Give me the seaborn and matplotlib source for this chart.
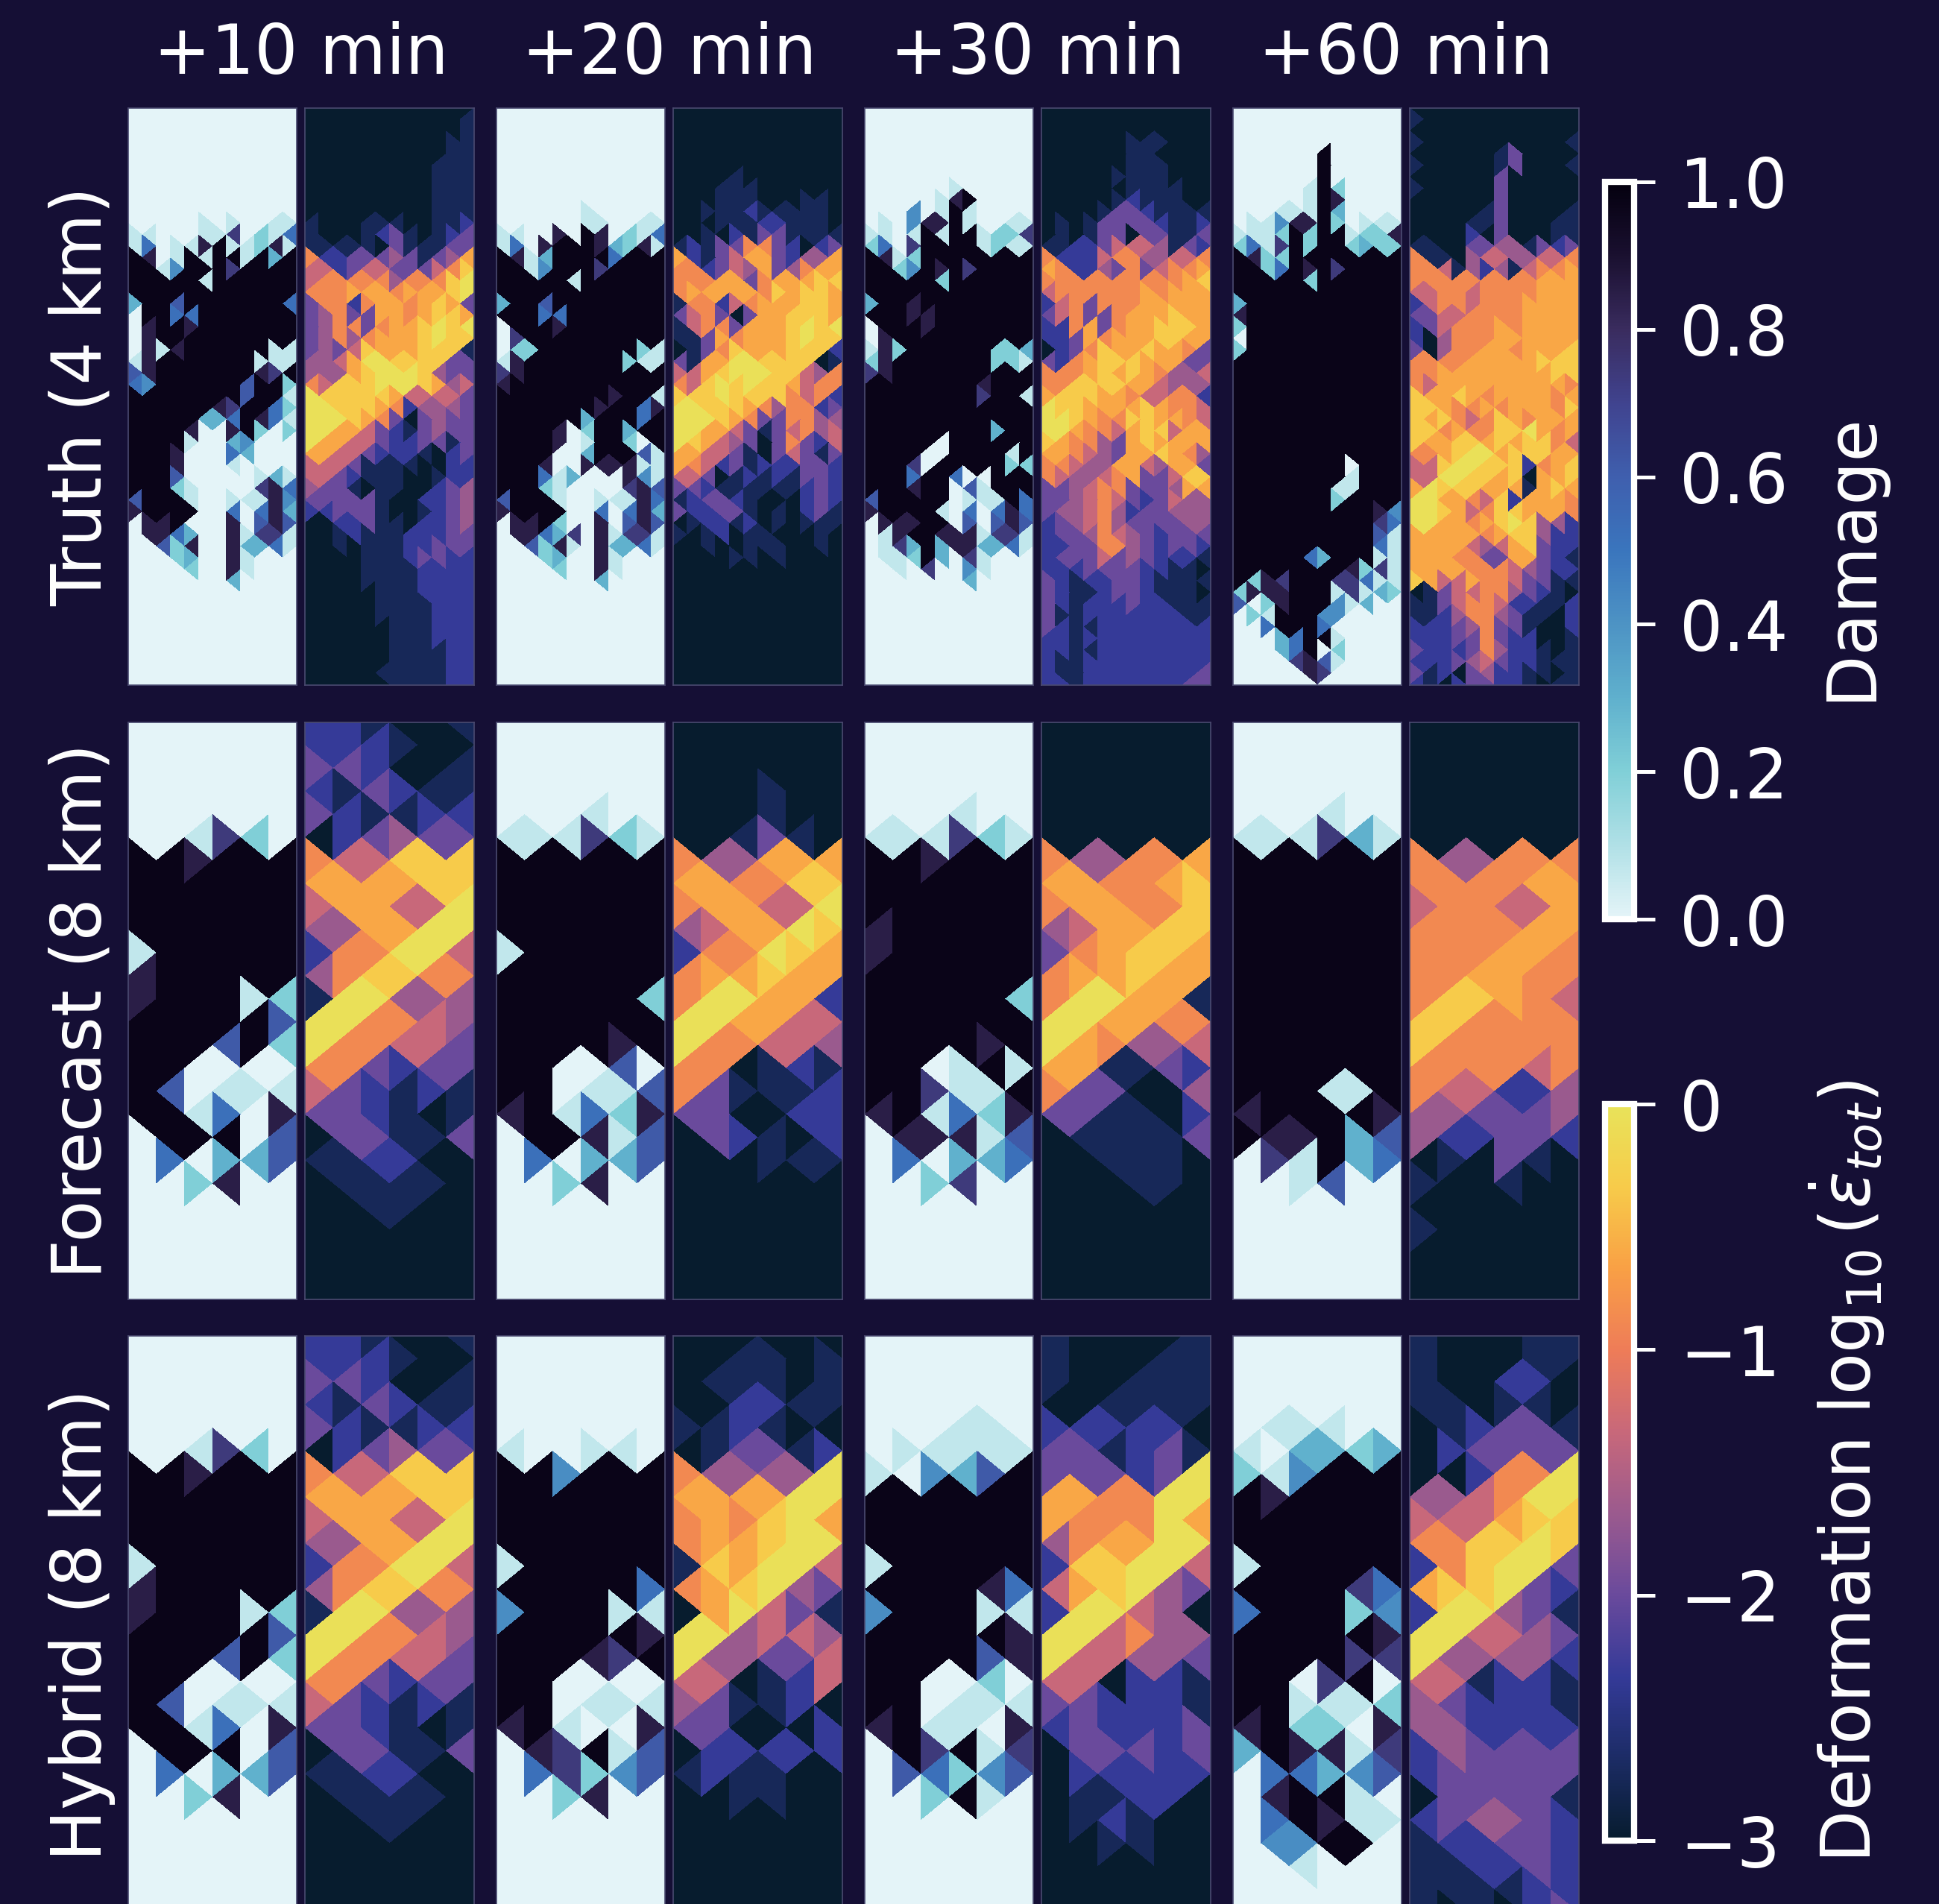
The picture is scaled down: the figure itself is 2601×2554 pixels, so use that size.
import numpy as np
import matplotlib
matplotlib.use("Agg")
import matplotlib.pyplot as plt
import matplotlib.tri as mtri
import seaborn as sns

# one digit per triangle, rows run top to bottom, columns left to right
damage_levels = [0.0, 0.07, 0.2, 0.3, 0.42, 0.52, 0.62, 0.74, 0.85, 0.97]
deform_levels = [-3.0, -2.75, -2.33, -2.0, -1.67, -1.33, -0.88, -0.62, -0.33, -0.05]

times = ["+10 min", "+20 min", "+30 min", "+60 min"]
row_names = ["Truth (4 km)", "Forecast (8 km)", "Hybrid (8 km)"]
damage_ticks = [0.0, 0.2, 0.4, 0.6, 0.8, 1.0]
deform_ticks = [-3, -2, -1, 0]

ice_colors = ["#e4f4f8", "#b0e0e6", "#80cfd7", "#5fb0cd", "#4d93c4", "#3a75bd",
              "#3f5fae", "#40438f", "#3a2c5f", "#1a1030", "#04000f"]
thermal_colors = ["#071c2e", "#1c2c66", "#343a98", "#6a4a9c", "#9b5a8e", "#c8687a",
                  "#ee7c58", "#f9a045", "#f7cb4a", "#e8e35a"]

truth_damage_10 = ["0" * 12] * 10 + [
    "000001010011", "110001170215", "150118911281", "980191991939", "991499979999",
    "999991999999", "999999999999", "399699999995", "099559999999", "089989999999",
    "089999999999", "081899999911", "189999999111", "689999999879", "549999996992",
    "999999996991", "999999879952", "999993359851", "999980089202", "999910034000",
    "999800053000", "999800010000", "999600000131", "999210000785", "699910011184",
    "899990050583", "088900080686", "088530081771", "006280083351", "000230081000",
    "000020081000", "000000030000"]
truth_damage_20 = ["0" * 12] * 9 + [
    "000000100000", "000000110011", "110080980215", "150899983281", "981399995999",
    "991499979999", "999991999999", "999999999999", "399699999999", "999559999999",
    "099989999999", "079999999999", "022999999921", "189999999211", "789999999999",
    "899999999999", "999999998991", "999999989958", "999999399959", "999980299399",
    "999980199209", "999900399961", "999800888811", "999513000841", "999210000786",
    "699910011185", "899990050583", "088920080686", "088537081771", "006281083351",
    "000230081000", "000020081000", "000000030000"]
truth_damage_30 = ["0" * 12] * 7 + [
    "000000100000", "000001890000", "000401910000", "010488910011", "110191991227",
    "250799991211", "981299999999", "992498979999", "999992999999", "999999999999",
    "399899999999", "999889999999", "099989999999", "089999999999", "182999999223",
    "289999999221", "789999999999", "999999998999", "999999997991", "999999999999",
    "999999999999", "999999999399", "999990999999", "999900999919", "999709999922",
    "999599500999", "999899061999", "699999011195", "899991050585", "088899060686",
    "018998881771", "017393883351", "011293071000", "001070041000", "000000030000"]
truth_damage_60 = ["0" * 12] * 4 + [
    "000000900000", "000000900000", "000000900000", "000001920000", "000001980000",
    "000111930000", "011488920111", "111292991228", "251792992322", "982299999999",
    "992598979999", "999992999999", "999999999999", "399999999999", "899999999999",
    "299999999999", "099999999999", "299999999999", "999999999999", "999999999999",
    "999999999999", "999999999999", "999999999999", "999999999999", "999999999999",
    "999999999999", "999999999999", "999999990999", "999999991999", "999999911999",
    "999999929999", "999999999984", "999999999975", "999999999961", "999999999951",
    "999995399911", "999999998271", "928799977511", "288899917132", "602899941300",
    "021999440000", "005999500000", "000359910000", "000359020000", "000078610000",
    "000008700000"]

truth_deform_10 = ["0" * 12, "000000000001", "000000000001", "000000000011", "000000000011",
    "000000000111", "000000000111", "000000000111", "000000000111", "000000000111",
    "100011100112", "100012310123", "111110311133", "622333431347", "552355333568",
    "566666466689", "666777677789", "366267767873", "346337767887", "346636778989",
    "346467778988", "343587778881", "445799888833", "444789998433", "658889998745",
    "988888755553", "998887624443", "999876303433", "997753213433", "977553223313",
    "775532221023", "555311110022", "553211100122", "433101100234", "333331002234",
    "223331001234", "002231102234", "001211122233", "001011122333", "000011123322",
    "000011112222", "000011112222", "000001112222", "000001111222", "000001111222",
    "000000111222", "000000111222", "000000111122", "000000111122", "000001111122",
    "000000111122"]
truth_deform_20 = ["0" * 12] * 6 + [
    "000010000000", "000111000000", "000111000110", "001112111110", "000111221110",
    "001021331111", "121336632023", "721357732447", "662354734677",
    "666773677788", "677777687887", "166256777887", "356303778887", "156637778989",
    "113767778988", "013687778882", "317799888801", "557899988546", "658989887566",
    "888988886562", "998887646623", "999876336644", "997753135645", "987543036325",
    "775531035313", "765231222332", "553012121332", "332111111232", "123321000232",
    "322331010231", "012212010111", "101201100010", "001001110010", "000011010000"]
truth_deform_30 = ["0" * 12] * 3 + [
    "000000111000", "000000110000", "000000111000", "000001111000", "000000111100",
    "000001211100", "000013321111", "010133332112", "010133033113", "112235554132",
    "622256644556", "762243635667", "666666666678", "566666676777", "256366677777",
    "356336777877", "226736778887", "223767778877", "023687787763", "326788877733",
    "666787876445", "668888775444", "788877655662", "988777787665", "998766887765",
    "997665788577", "876643787777", "776543778764", "665447754773", "654456733588",
    "334566333477", "334565323544", "344564233444", "234564333344", "233465432333",
    "223366432332", "233353432221", "222333322110", "321223321111", "321123321110",
    "321222322111", "311222222211", "321122222222", "221222222222", "221122222222",
    "211222222222", "211222222223", "221222222233"]
truth_deform_60 = ["0" * 12, "100000000000", "0" * 12, "100000000001", "000000130000",
    "100000130001", "000000300000", "100000300000", "000000300000", "000001300001",
    "000011300011", "000020300011", "110033441323", "611045544556", "665142415667",
    "666666666777", "556656666777", "256656667777", "335566667777", "235666767777",
    "204666777777", "304667767778", "666677777888", "667777777788", "657777777776",
    "877876777767", "887667677768", "878656876777", "886766889767", "877887878865",
    "667899788877", "558998882678", "559988780778", "798887771787", "997765827776",
    "998756887776", "997767898442", "777776788422", "777754578322", "777663377321",
    "777766654322", "875576653311", "013556643210", "113566522112", "112466431102",
    "222346331002", "222336322001", "322236422101", "222345322111", "312034221101",
    "210233221011"]

forecast_damage_10 = ["000000"] * 5 + [
    "001720", "998999", "999999", "999999", "999999", "199999", "899999", "899912",
    "999996", "999692", "990000", "960111", "991508", "099906", "050336", "002800"]
forecast_damage_20 = ["000000"] * 4 + [
    "000100", "111721", "999999", "999999", "999999", "999999", "199999", "999999",
    "999992", "999999", "999989", "990060", "990116", "891528", "099816", "050336", "002800"]
forecast_damage_30 = ["000000"] * 4 + [
    "000100", "111721", "998999", "999999", "999999", "899999", "899999", "999999",
    "999992", "999999", "999989", "990191", "997119", "891528", "088816", "050335", "002700"]
forecast_damage_60 = ["000000"] * 4 + [
    "000100", "111731", "999999", "999999", "999999", "999999", "999999", "999999",
    "999999", "999999", "999999", "999999", "999119", "899998", "988936", "071935", "001600"]

forecast_deform_10 = ["221001", "222100", "332001", "213211", "321122", "023433", "655888",
    "777788", "577559", "447799", "266995", "468866", "199444", "996654", "966553",
    "663233", "532121", "332101", "033113", "112200", "011110", "001100"]
forecast_deform_20 = ["000000"] * 3 + ["000100", "000100", "001310", "644777", "776688",
    "677559", "457798", "266987", "677877", "699772", "997755", "966554", "660121",
    "631112", "330022", "032102", "000111"]
forecast_deform_30 = ["000000"] * 6 + ["644667", "776678", "677668", "457788", "367887",
    "677877", "699771", "997766", "976445", "771132", "633004", "331102", "011113",
    "001110", "000110"]
forecast_deform_60 = ["000000"] * 6 + ["644666", "666677", "566557", "666677", "666776",
    "667766", "688765", "886666", "866666", "666656", "655224", "443334", "422332",
    "010310", "100100", "000000", "100000"]

hybrid_damage_10 = forecast_damage_10
hybrid_damage_20 = ["000000"] * 5 + [
    "100110", "994999", "999999", "999999", "999999", "199999", "999995", "499911",
    "999998", "999879", "990000", "990111", "891008", "087916", "057246", "002800"]
hybrid_damage_30 = ["000000"] * 4 + [
    "000110", "011111", "104369", "999999", "999999", "999999", "199999", "999985",
    "499911", "999998", "999968", "990020", "990111", "891108", "097917", "065246", "002910"]
hybrid_damage_60 = ["000000"] * 4 + [
    "011100", "103323", "214999", "989999", "999999", "999999", "199999", "999975",
    "599924", "999998", "999977", "990790", "991112", "892208", "398817", "055346",
    "089910", "059811", "044990", "001000"]

hybrid_deform_10 = forecast_deform_10
hybrid_deform_20 = ["000000", "001101", "011101", "002211", "112100", "013312", "644449",
    "777799", "676897", "677899", "187995", "678943", "079531", "994554", "944335",
    "550125", "431120", "330002", "022222", "121100", "001100"]
hybrid_deform_30 = ["100001", "100011", "100111", "001111", "222220", "331231", "333239",
    "776699", "766697", "467799", "288995", "578943", "299540", "995644", "955443",
    "550221", "332221", "232223", "033323", "022222", "011220", "012100", "001100"]
hybrid_deform_60 = ["100011", "100011", "100220", "110110", "012331", "023333", "002669",
    "445699", "555788", "668898", "268993", "788932", "299431", "995543", "944442",
    "551221", "432221", "442222", "243333", "233333", "033331", "234432", "122332",
    "112232", "111122", "101023"]

damage_panels = [
    [truth_damage_10, truth_damage_20, truth_damage_30, truth_damage_60],
    [forecast_damage_10, forecast_damage_20, forecast_damage_30, forecast_damage_60],
    [hybrid_damage_10, hybrid_damage_20, hybrid_damage_30, hybrid_damage_60],
]
deform_panels = [
    [truth_deform_10, truth_deform_20, truth_deform_30, truth_deform_60],
    [forecast_deform_10, forecast_deform_20, forecast_deform_30, forecast_deform_60],
    [hybrid_deform_10, hybrid_deform_20, hybrid_deform_30, hybrid_deform_60],
]

BG = "#150f35"
W, H = 2601, 2554

sns.set_theme(style="dark", rc={"figure.facecolor": BG, "axes.facecolor": BG, "savefig.facecolor": BG,
                                "text.color": "white", "axes.labelcolor": "white",
                                "xtick.color": "white", "ytick.color": "white"})
plt.rcParams["font.family"] = ["DejaVu Sans"]

damage_cmap = sns.blend_palette(ice_colors, n_colors=256, as_cmap=True)
deform_cmap = sns.blend_palette(thermal_colors, n_colors=256, as_cmap=True)


def px_axes(fig, x0, y0, x1, y1):
    return fig.add_axes([x0 / W, 1 - y1 / H, (x1 - x0) / W, (y1 - y0) / H])


def build_mesh(n_cols, n_rows, parity):
    # strips of triangles between columns, every triangle has its tip on row k
    nodes, tris = {}, []

    def node(c, k):
        return nodes.setdefault((c, k), len(nodes))

    for k in range(n_rows):
        for c in range(n_cols):
            if (c + parity) % 2 == k % 2:
                tris.append([node(c, k), node(c + 1, k - 1), node(c + 1, k + 1)])
            else:
                tris.append([node(c + 1, k), node(c, k - 1), node(c, k + 1)])
    xy = np.array(list(nodes.keys()), dtype=float)
    return mtri.Triangulation(xy[:, 0], xy[:, 1], np.array(tris))


mesh_4km = build_mesh(12, 51, 0)
mesh_8km = build_mesh(6, 26, 1)


def draw_panel(ax, rows, levels, cmap, vmin, vmax, truth):
    mesh, n_cols, n_rows, y_max = (mesh_4km, 12, 51, 50) if truth else (mesh_8km, 6, 26, 25)
    rows = [r.ljust(n_cols, "0")[:n_cols] for r in rows] + ["0" * n_cols] * (n_rows - len(rows))
    vals = np.array([levels[int(ch)] for r in rows[:n_rows] for ch in r])
    # no antialiasing, otherwise the triangle seams show up on the pale ice
    ax.tripcolor(mesh, facecolors=vals, cmap=cmap, vmin=vmin, vmax=vmax, edgecolors="none", antialiased=False)
    ax.set_xlim(0, n_cols)
    ax.set_ylim(y_max, 0)
    ax.set_xticks([])
    ax.set_yticks([])
    for s in ax.spines.values():
        s.set_color("#4a4a70")
        s.set_linewidth(0.4)


fig = plt.figure(figsize=(W / 300, H / 300), dpi=300, facecolor=BG)

row_tops = [145, 969, 1792]
col_lefts = [172, 666, 1160, 1654]
panel_w, panel_h = 226, 774

for i, top in enumerate(row_tops):
    for j, left in enumerate(col_lefts):
        ax = px_axes(fig, left, top, left + panel_w, top + panel_h)
        draw_panel(ax, damage_panels[i][j], damage_levels, damage_cmap, 0, 1, i == 0)
        ax = px_axes(fig, left + 237, top, left + 237 + panel_w + 1, top + panel_h)
        draw_panel(ax, deform_panels[i][j], deform_levels, deform_cmap, -3, 0, i == 0)
    fig.text(110 / W, 1 - (top + panel_h / 2) / H, row_names[i], rotation=90,
             ha="center", va="center", fontsize=22, color="white")

for j, left in enumerate(col_lefts):
    fig.text((left + 232) / W, 1 - 73 / H, times[j], ha="center", va="center", fontsize=22, color="white")


def add_colorbar(y0, y1, cmap, vmin, vmax, ticks, fmt):
    cax = px_axes(fig, 2153, y0, 2192, y1)
    sm = plt.cm.ScalarMappable(norm=plt.Normalize(vmin, vmax), cmap=cmap)
    cb = fig.colorbar(sm, cax=cax, ticks=ticks, format=fmt)
    cb.outline.set_edgecolor("white")
    cb.outline.set_linewidth(2)
    cb.ax.tick_params(length=6.7, width=1.2, pad=8, labelsize=22, colors="white")
    cb.minorticks_off()
    return cb


add_colorbar(244, 1233, damage_cmap, 0, 1, damage_ticks, "%.1f")
add_colorbar(1481, 2469, deform_cmap, -3, 0, deform_ticks, None)

fig.text(2483 / W, 1 - 747 / H, "Damage", rotation=90, ha="center", va="center", fontsize=22, color="white")
fig.text(2478 / W, 1 - 1974 / H, r"Deformation $\log_{10}(\dot{\varepsilon}_{tot})$", rotation=90,
         ha="center", va="center", fontsize=22, color="white")

fig.savefig("out.png", dpi=300, facecolor=BG)
plt.close(fig)
